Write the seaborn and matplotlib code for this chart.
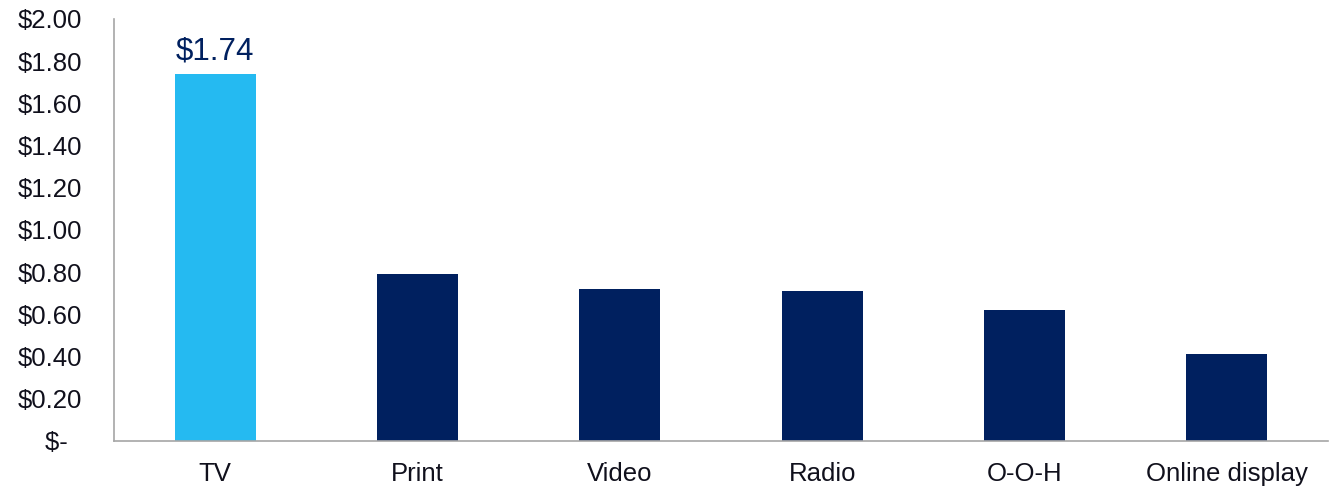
import matplotlib
matplotlib.use("Agg")
import matplotlib.pyplot as plt
import seaborn as sns
import pandas as pd

# Cost per unit by media channel
channels = ["TV", "Print", "Video", "Radio", "O-O-H", "Online display"]
costs = [1.74, 0.79, 0.72, 0.71, 0.62, 0.41]
highlight = "TV"

y_ticks = [0.0, 0.2, 0.4, 0.6, 0.8, 1.0, 1.2, 1.4, 1.6, 1.8, 2.0]
y_tick_labels = ["$-  ", "$0.20", "$0.40", "$0.60", "$0.80", "$1.00",
                 "$1.20", "$1.40", "$1.60", "$1.80", "$2.00"]

LIGHT_BLUE = "#25BAF1"
NAVY = "#00205F"
TEXT = "#10101c"
AXIS_GREY = "#a6a6a6"

df = pd.DataFrame({"channel": channels, "cost": costs})
palette = {c: (LIGHT_BLUE if c == highlight else NAVY) for c in channels}

sns.set_theme(style="white")
plt.rcParams["font.family"] = ["Liberation Sans", "DejaVu Sans"]

fig = plt.figure(figsize=(13.31, 4.87), dpi=100)
ax = fig.add_axes([0.0857, 0.0945, 0.912, 0.8665])

sns.barplot(data=df, x="channel", y="cost", hue="channel", palette=palette,
            order=channels, hue_order=channels, width=0.4, legend=False,
            saturation=1, linewidth=0, ax=ax)

ax.set_xlim(-0.5, len(channels) - 0.5)
ax.set_ylim(0, 2.0)
ax.set_yticks(y_ticks)
ax.set_yticklabels(y_tick_labels)
ax.set_xlabel("")
ax.set_ylabel("")

ax.tick_params(axis="y", length=0, pad=23, labelsize=18.5, labelcolor=TEXT)
ax.tick_params(axis="x", length=0, pad=15, labelsize=18.5, labelcolor=TEXT)

for side in ("top", "right"):
    ax.spines[side].set_visible(False)
for side in ("left", "bottom"):
    ax.spines[side].set_color(AXIS_GREY)
    ax.spines[side].set_linewidth(1.2)

# Value label on the highlighted bar
idx = channels.index(highlight)
ax.annotate(f"${costs[idx]:.2f}", xy=(idx, costs[idx]), xytext=(0, 5),
            textcoords="offset points", ha="center", va="bottom",
            fontsize=22.5, color=NAVY)

fig.savefig("out.png", dpi=100)
